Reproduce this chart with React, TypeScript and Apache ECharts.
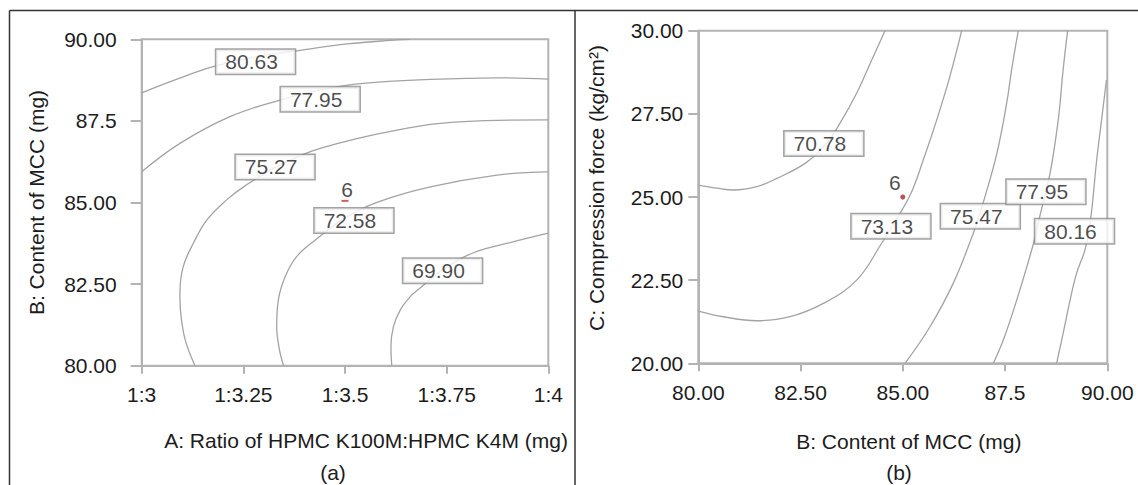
import React, { useEffect, useRef } from "react";
import * as echarts from "echarts";

// ---------- Panel (a): A (ratio) vs B (MCC) ----------
const xTicksA = ["1:3", "1:3.25", "1:3.5", "1:3.75", "1:4"];
const yTicksA = ["80.00", "82.50", "85.00", "87.5", "90.00"];

const contourA_8063: number[][] = [[3.0, 88.36], [3.087, 88.78], [3.176, 89.16], [3.279, 89.46], [3.394, 89.67], [3.505, 89.86], [3.628, 89.98], [3.66, 90.0]];
const contourA_7795: number[][] = [[3.0, 85.94], [3.094, 86.81], [3.217, 87.63], [3.34, 88.14], [3.439, 88.45], [3.545, 88.65], [3.71, 88.77], [3.874, 88.82], [4.0, 88.78]];
const contourA_7527: number[][] = [[3.131, 80.0], [3.107, 80.79], [3.096, 81.61], [3.094, 82.22], [3.102, 83.03], [3.127, 83.75], [3.16, 84.46], [3.209, 85.08], [3.254, 85.51], [3.34, 86.15], [3.439, 86.66], [3.628, 87.22], [3.792, 87.48], [4.0, 87.53]];
const contourA_7258: number[][] = [[3.349, 80.0], [3.339, 80.48], [3.332, 81.19], [3.336, 82.01], [3.353, 82.73], [3.381, 83.34], [3.427, 83.85], [3.5, 84.53], [3.582, 85.02], [3.71, 85.48], [3.874, 85.84], [4.0, 85.94]];
const contourA_6990: number[][] = [[3.615, 80.0], [3.613, 80.58], [3.619, 81.19], [3.636, 81.71], [3.66, 82.11], [3.681, 82.34], [3.746, 82.99], [3.816, 83.46], [3.915, 83.8], [4.0, 84.06]];

const labelTextA = ["80.63", "77.95", "75.27", "72.58", "69.90"];
const labelXA = [3.28, 3.439, 3.328, 3.522, 3.74];
const labelYA = [89.31, 88.16, 86.09, 84.45, 82.91];
const pointA = [3.5, 85.05];

// ---------- Panel (b): B (MCC) vs C (force) ----------
const xTicksB = ["80.00", "82.50", "85.00", "87.5", "90.00"];
const yTicksB = ["20.00", "22.50", "25.00", "27.50", "30.00"];

const contourB_7078: number[][] = [[80.0, 25.36], [80.45, 25.27], [80.856, 25.21], [81.43, 25.31], [81.92, 25.56], [82.61, 26.01], [83.098, 26.56], [83.465, 27.22], [83.87, 28.12], [84.24, 29.12], [84.565, 30.0]];
const contourB_7313: number[][] = [[80.0, 21.57], [80.611, 21.4], [81.428, 21.28], [82.242, 21.4], [83.056, 21.8], [83.873, 22.5], [84.484, 23.61], [84.88, 24.4], [85.2, 25.11], [85.5, 26.11], [85.83, 27.32], [86.15, 28.62], [86.44, 30.0]];
const contourB_7547: number[][] = [[85.054, 20.0], [85.665, 21.1], [86.235, 22.41], [86.724, 23.91], [86.87, 24.46], [87.01, 25.01], [87.3, 26.31], [87.54, 27.82], [87.66, 28.82], [87.824, 30.0]];
const contourB_7795: number[][] = [[87.213, 20.0], [87.457, 20.7], [87.785, 21.9], [88.183, 23.55], [88.355, 24.45], [88.6, 25.71], [88.8, 27.32], [88.92, 28.82], [89.03, 30.0]];
const contourB_8016: number[][] = [[88.76, 20.0], [88.92, 20.9], [89.09, 21.9], [89.25, 22.71], [89.455, 23.41], [89.55, 24.01], [89.62, 24.61], [89.74, 26.11], [89.86, 27.32], [89.98, 28.52]];

const labelTextB = ["70.78", "73.13", "75.47", "77.95", "80.16"];
const labelXB = [83.07, 84.71, 86.895, 88.5, 89.198];
const labelYB = [26.61, 24.12, 24.42, 25.16, 23.97];
const pointB = [85.0, 25.0];

const FONT = "'Liberation Sans', Arial, Helvetica, sans-serif";
const TEXT = "#1c1c1c";
const AXIS = "#b3b3b3";
const CONTOUR = "#a3a3a3";

function contourSeries(data: number[][], idx: number) {
  return {
    type: "line",
    xAxisIndex: idx,
    yAxisIndex: idx,
    data,
    smooth: 0.4,
    symbol: "none",
    silent: true,
    z: 2,
    lineStyle: { color: CONTOUR, width: 1.3 },
  };
}

function labelSeries(texts: string[], xs: number[], ys: number[], idx: number) {
  return {
    type: "scatter",
    xAxisIndex: idx,
    yAxisIndex: idx,
    symbolSize: 0,
    silent: true,
    z: 10,
    data: texts.map((t, i) => ({ value: [xs[i], ys[i]], name: t })),
    label: {
      show: true,
      position: "inside",
      formatter: (p: any) => p.name,
      fontSize: 21,
      fontFamily: FONT,
      color: TEXT,
      lineHeight: 21,
      backgroundColor: "#ffffff",
      borderColor: "#8c8c8c",
      borderWidth: 1.5,
      padding: [2, 17, 1, 9],
    },
  };
}

function axisBase(ticks: string[], min: number, interval: number) {
  return {
    type: "value",
    min,
    max: min + interval * (ticks.length - 1),
    interval,
    axisLine: { show: true, lineStyle: { color: AXIS, width: 2 } },
    axisTick: { show: true, inside: false, lineStyle: { color: AXIS, width: 2 } },
    splitLine: { show: false },
    axisLabel: {
      fontSize: 21,
      fontFamily: FONT,
      color: TEXT,
      formatter: (v: number) => ticks[Math.round((v - min) / interval)] ?? "",
    },
    nameLocation: "middle",
  };
}

export default function App() {
  const ref = useRef<HTMLDivElement>(null);

  useEffect(() => {
    document.body.style.margin = "0";
    if (!ref.current) return;
    const chart = echarts.init(ref.current, undefined, { renderer: "svg" });

    const xa: any = axisBase(xTicksA, 3, 0.25);
    xa.gridIndex = 0;
    xa.axisTick.length = 8;
    xa.axisLabel.margin = 18;
    xa.name = "A: Ratio of HPMC K100M:HPMC K4M (mg)";
    xa.nameGap = 64;
    xa.nameTextStyle = { fontSize: 21, fontFamily: FONT, color: TEXT, padding: [0, 0, 0, 42] };

    const ya: any = axisBase(yTicksA, 80, 2.5);
    ya.gridIndex = 0;
    ya.axisTick.length = 11;
    ya.axisLabel.margin = 25;
    ya.name = "B: Content of MCC (mg)";
    ya.nameGap = 95;
    ya.nameTextStyle = { fontSize: 21, fontFamily: FONT, color: TEXT };

    const xb: any = axisBase(xTicksB, 80, 2.5);
    xb.gridIndex = 1;
    xb.axisTick.length = 8;
    xb.axisLabel.margin = 19;
    xb.name = "B: Content of MCC (mg)";
    xb.nameGap = 68;
    xb.nameTextStyle = { fontSize: 21, fontFamily: FONT, color: TEXT, padding: [0, 0, 0, 12] };

    const yb: any = axisBase(yTicksB, 20, 2.5);
    yb.gridIndex = 1;
    yb.axisTick.length = 10;
    yb.axisLabel.margin = 15;
    yb.name = "C: Compression force (kg/cm²)";
    yb.nameGap = 91;
    yb.nameTextStyle = { fontSize: 21, fontFamily: FONT, color: TEXT, padding: [0, 0, 0, 18] };

    const frameStyle = { stroke: "#333333", lineWidth: 1.5 };

    const option: any = {
      animation: false,
      backgroundColor: "#ffffff",
      textStyle: { fontFamily: FONT },
      grid: [
        { left: 141.7, top: 39.3, width: 406.6, height: 326.4, show: true, borderColor: AXIS, borderWidth: 2, backgroundColor: "transparent" },
        { left: 698.3, top: 30.7, width: 409, height: 332.6, show: true, borderColor: AXIS, borderWidth: 2, backgroundColor: "transparent" },
      ],
      xAxis: [xa, xb],
      yAxis: [ya, yb],
      series: [
        contourSeries(contourA_8063, 0),
        contourSeries(contourA_7795, 0),
        contourSeries(contourA_7527, 0),
        contourSeries(contourA_7258, 0),
        contourSeries(contourA_6990, 0),
        contourSeries(contourB_7078, 1),
        contourSeries(contourB_7313, 1),
        contourSeries(contourB_7547, 1),
        contourSeries(contourB_7795, 1),
        contourSeries(contourB_8016, 1),
        labelSeries(labelTextA, labelXA, labelYA, 0),
        labelSeries(labelTextB, labelXB, labelYB, 1),
        {
          type: "scatter",
          xAxisIndex: 0,
          yAxisIndex: 0,
          symbol: "rect",
          symbolSize: [7, 2],
          silent: true,
          z: 11,
          itemStyle: { color: "#c0392b" },
          data: [pointA],
          label: { show: true, formatter: "6", position: "top", distance: 0, offset: [2, 0], fontSize: 21, fontFamily: FONT, color: TEXT },
        },
        {
          type: "scatter",
          xAxisIndex: 1,
          yAxisIndex: 1,
          symbol: "circle",
          symbolSize: 5,
          silent: true,
          z: 11,
          itemStyle: { color: "#b0202a" },
          data: [pointB],
          label: { show: true, formatter: "6", position: "top", distance: 2, offset: [-8, 0], fontSize: 21, fontFamily: FONT, color: TEXT },
        },
      ],
      graphic: [
        { type: "line", silent: true, shape: { x1: 9.5, y1: 10.5, x2: 1138, y2: 10.5 }, style: frameStyle },
        { type: "line", silent: true, shape: { x1: 9.5, y1: 10.5, x2: 9.5, y2: 485 }, style: frameStyle },
        { type: "line", silent: true, shape: { x1: 575, y1: 10.5, x2: 575, y2: 485 }, style: frameStyle },
        { type: "text", silent: true, x: 333, y: 472, style: { text: "(a)", fontSize: 21, fontFamily: FONT, fill: TEXT, align: "center", verticalAlign: "middle" } },
        { type: "text", silent: true, x: 899, y: 472, style: { text: "(b)", fontSize: 21, fontFamily: FONT, fill: TEXT, align: "center", verticalAlign: "middle" } },
      ],
    };

    chart.setOption(option);
    return () => chart.dispose();
  }, []);

  return <div ref={ref} style={{ width: 1138, height: 485 }} />;
}
